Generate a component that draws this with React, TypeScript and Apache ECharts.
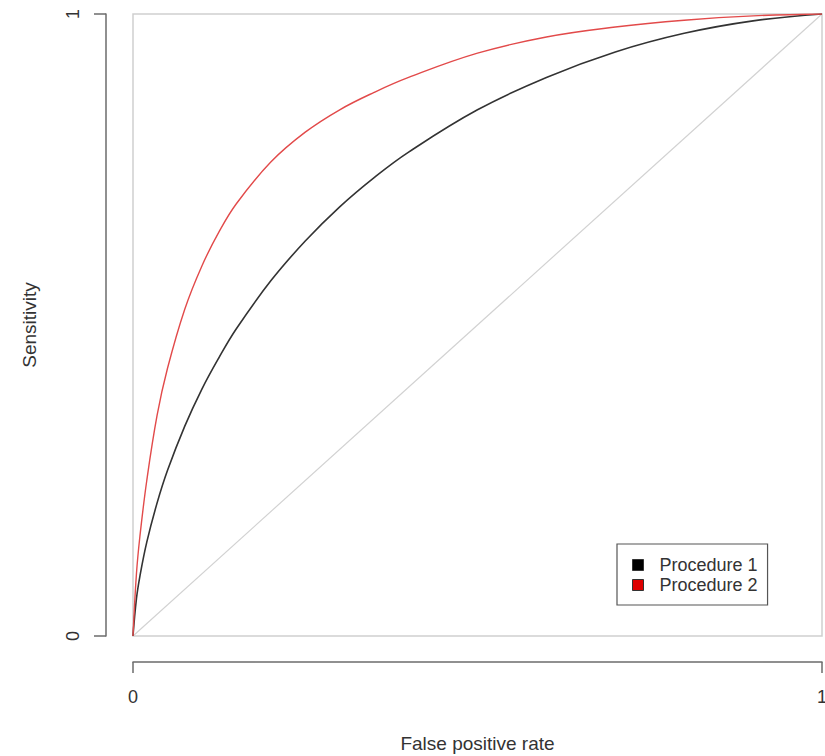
import React, { useEffect, useRef } from "react";
import * as echarts from "echarts";

const xTicks = [0, 1];
const yTicks = [0, 1];
const seriesNames = ["Procedure 1", "Procedure 2"];

// false positive rate grid and sensitivities
const fpr = [0, 0.005, 0.01, 0.02, 0.035, 0.05, 0.075, 0.1, 0.125, 0.15, 0.2, 0.25, 0.3, 0.35, 0.4, 0.5, 0.6, 0.7, 0.8, 0.9, 1];
const sensProcedure1 = [0, 0.06, 0.096, 0.151, 0.214, 0.266, 0.337, 0.397, 0.448, 0.494, 0.571, 0.635, 0.69, 0.737, 0.778, 0.846, 0.898, 0.939, 0.969, 0.989, 1];
const sensProcedure2 = [0, 0.1, 0.16, 0.25, 0.355, 0.43, 0.525, 0.595, 0.65, 0.695, 0.762, 0.81, 0.846, 0.874, 0.898, 0.937, 0.963, 0.979, 0.99, 0.997, 1];

const chanceX = [0, 1];
const chanceY = [0, 1];

const FONT = "'Liberation Sans', Arial, sans-serif";

const zip = (xs: number[], ys: number[]) => xs.map((x, i) => [x, ys[i]]);

export default function App() {
  const ref = useRef<HTMLDivElement>(null);

  useEffect(() => {
    if (!ref.current) return;
    const chart = echarts.init(ref.current, null, { renderer: "svg" });
    const axisLine = { show: true, onZero: false, lineStyle: { color: "#6b6b6b", width: 1.5 } };
    chart.setOption({
      animation: false,
      backgroundColor: "#ffffff",
      textStyle: { fontFamily: FONT },
      grid: {
        left: 133,
        top: 14,
        width: 689,
        height: 622,
        show: true,
        borderColor: "#cfcfcf",
        borderWidth: 1.5,
        backgroundColor: "transparent",
        containLabel: false,
        outerBoundsMode: "none",
      },
      xAxis: {
        type: "value",
        min: xTicks[0],
        max: xTicks[xTicks.length - 1],
        interval: 1,
        offset: 26,
        name: "False positive rate",
        nameLocation: "middle",
        nameGap: 72,
        nameTextStyle: { fontSize: 19, color: "#333", fontFamily: FONT },
        axisLine,
        axisTick: { show: true, length: 11, lineStyle: { color: "#6b6b6b", width: 1.5 } },
        axisLabel: { fontSize: 18, color: "#333", margin: 26, fontFamily: FONT },
        splitLine: { show: false },
      },
      yAxis: {
        type: "value",
        min: yTicks[0],
        max: yTicks[yTicks.length - 1],
        interval: 1,
        offset: 27,
        name: "Sensitivity",
        nameLocation: "middle",
        nameGap: 67,
        nameTextStyle: { fontSize: 19, color: "#333", fontFamily: FONT },
        axisLine,
        axisTick: { show: true, length: 12, lineStyle: { color: "#6b6b6b", width: 1.5 } },
        axisLabel: { fontSize: 18, color: "#333", margin: 24, rotate: 90, fontFamily: FONT },
        splitLine: { show: false },
      },
      legend: {
        left: 617,
        top: 544,
        orient: "vertical",
        icon: "rect",
        itemWidth: 11,
        itemHeight: 11,
        itemGap: 2,
        padding: [12, 10, 11, 15],
        borderColor: "#555",
        borderWidth: 1.2,
        borderRadius: 0,
        backgroundColor: "#fff",
        textStyle: { fontSize: 18, color: "#333", fontFamily: FONT, padding: [0, 0, 0, 11] },
        data: [
          { name: seriesNames[0], itemStyle: { color: "#000", borderColor: "#333", borderWidth: 1 } },
          { name: seriesNames[1], itemStyle: { color: "#dd0000", borderColor: "#333", borderWidth: 1 } },
        ],
      },
      series: [
        {
          name: "chance",
          type: "line",
          data: zip(chanceX, chanceY),
          showSymbol: false,
          silent: true,
          lineStyle: { color: "#d2d2d2", width: 1.2 },
          itemStyle: { color: "#d2d2d2" },
        },
        {
          name: seriesNames[0],
          type: "line",
          data: zip(fpr, sensProcedure1),
          showSymbol: false,
          smooth: 0.4,
          lineStyle: { color: "#333", width: 1.6 },
          itemStyle: { color: "#000" },
        },
        {
          name: seriesNames[1],
          type: "line",
          data: zip(fpr, sensProcedure2),
          showSymbol: false,
          smooth: 0.4,
          lineStyle: { color: "#e24a4a", width: 1.4 },
          itemStyle: { color: "#dd0000" },
        },
      ],
    });
    return () => chart.dispose();
  }, []);

  return (
    <div
      ref={ref}
      style={{ position: "fixed", left: 0, top: 0, width: 825, height: 756, background: "#fff" }}
    />
  );
}
